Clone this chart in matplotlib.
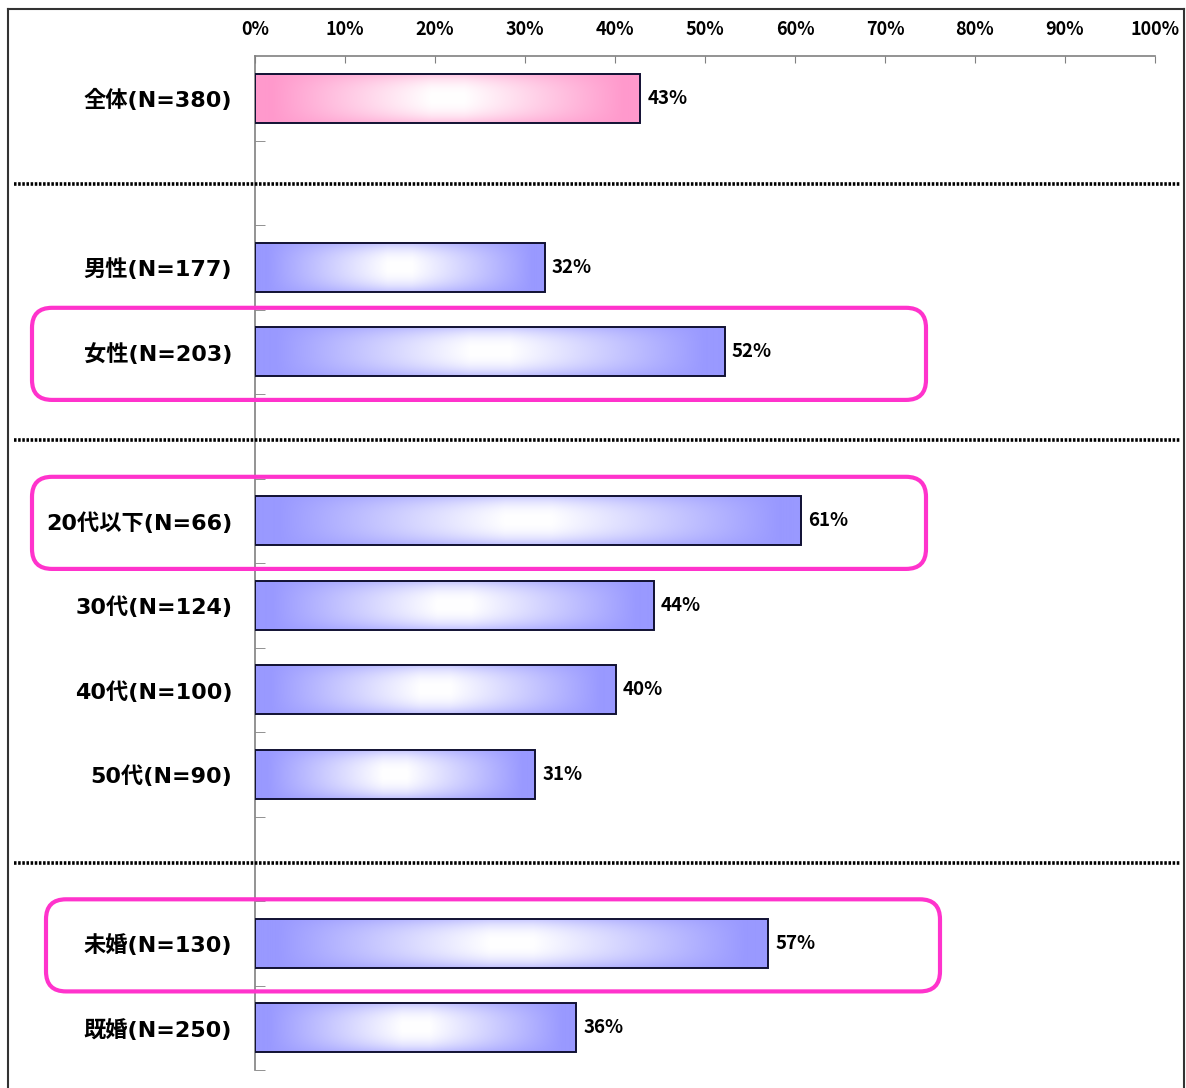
import numpy as np
import matplotlib
matplotlib.use("Agg")
import matplotlib.pyplot as plt
from matplotlib.patches import FancyBboxPatch
from matplotlib.lines import Line2D
from matplotlib.transforms import IdentityTransform, blended_transform_factory
from matplotlib.ticker import FixedLocator

plt.rcParams['font.family'] = ['Noto Sans CJK JP', 'DejaVu Sans']

# ---- data ----
categories = ["全体(N=380)", "男性(N=177)", "女性(N=203)",
              "20代以下(N=66)", "30代(N=124)", "40代(N=100)", "50代(N=90)",
              "未婚(N=130)", "既婚(N=250)"]
values = [42.8, 32.2, 52.2, 60.7, 44.3, 40.1, 31.1, 57.0, 35.7]
group_sizes = [1, 2, 4, 2]
highlighted = ["女性(N=203)", "20代以下(N=66)", "未婚(N=130)"]
x_ticks = [0, 10, 20, 30, 40, 50, 60, 70, 80, 90, 100]
x_tick_labels = [f"{t}%" for t in x_ticks]

# slot positions: groups separated by an empty slot
positions = []
sep_slots = []
slot = 0
for gi, n in enumerate(group_sizes):
    for _ in range(n):
        positions.append(slot)
        slot += 1
    if gi < len(group_sizes) - 1:
        sep_slots.append(slot)
        slot += 1
n_slots = slot

W, H = 1186, 1088
fig = plt.figure(figsize=(W / 100, H / 100), dpi=100)
ax = fig.add_axes([255 / W, 18 / H, 900 / W, 1014 / H])
ax.set_xlim(0, 100)
ax.set_ylim(n_slots - 0.5, -0.5)

blue = np.array([153, 153, 255]) / 255
pink = np.array([255, 153, 204]) / 255

def grad_img(base, nx=300, ny=100):
    u = np.linspace(0, 1, nx)
    v = np.linspace(0, 1, ny)
    fx = np.clip((1 - np.abs(2 * u - 1)) * 1.2 - 0.1, 0, 1)
    fy = 1 - 0.6 * np.abs(2 * v - 1) ** 2.5
    w = fy[:, None] * fx[None, :]
    img = base[None, None, :] * (1 - w[..., None]) + w[..., None]
    return np.clip(img, 0, 1)

bar_h = 0.58
bars = ax.barh(positions, values, height=bar_h, facecolor='none',
               edgecolor='#111133', linewidth=1.4, zorder=3)
for i, (b, v, p) in enumerate(zip(bars, values, positions)):
    base = pink if i == 0 else blue
    im = ax.imshow(grad_img(base), extent=(0, v, p + bar_h / 2, p - bar_h / 2),
                   aspect='auto', interpolation='bilinear', zorder=2)
    im.set_clip_path(b)
    ax.text(v + 0.8, p, f"{round(v)}%", va='center', ha='left',
            fontsize=13.5, fontweight='bold', zorder=4)

ax.set_xlim(0, 100)
ax.set_ylim(n_slots - 0.5, -0.5)
ax.set_aspect('auto')

# axes styling
ax.xaxis.tick_top()
ax.set_xticks(x_ticks)
ax.set_xticklabels(x_tick_labels, fontsize=13, fontweight='bold')
ax.tick_params(axis='x', direction='in', length=5, color='#808080', pad=12)
ax.set_yticks(positions)
ax.set_yticklabels(categories, fontsize=16, fontweight='bold',
                   family=['DejaVu Sans', 'Noto Sans CJK JP'])
ax.tick_params(axis='y', which='major', length=0, pad=16.5)
ax.yaxis.set_minor_locator(FixedLocator(np.arange(0.5, n_slots, 1.0)))
ax.tick_params(axis='y', which='minor', direction='in', length=7, color='#808080')
for s in ['right', 'bottom']:
    ax.spines[s].set_visible(False)
for s in ['top', 'left']:
    ax.spines[s].set_color('#808080')
    ax.spines[s].set_linewidth(1.2)

# dotted separators
sep_offsets = [0.01, 0.05, 0.05]
tr = blended_transform_factory(fig.transFigure, ax.transData)
for s, off in zip(sep_slots, sep_offsets):
    ax.add_line(Line2D([14 / W, 1180 / W], [s + off, s + off], transform=tr,
                       color='black', lw=2.6, linestyle=(0, (0.7, 0.45)),
                       clip_on=False, zorder=5))

# highlight rounded boxes
fig.canvas.draw()
box_x = {"女性(N=203)": (32, 926), "20代以下(N=66)": (32, 926), "未婚(N=130)": (46, 940)}
for name in highlighted:
    p = positions[categories.index(name)]
    y_top = ax.transData.transform((0, p - 0.52))[1]
    y_bot = ax.transData.transform((0, p + 0.57))[1]
    x0, x1 = box_x[name]
    patch = FancyBboxPatch((x0, y_bot), x1 - x0, y_top - y_bot,
                           boxstyle="round,pad=0,rounding_size=20",
                           transform=IdentityTransform(), fill=False,
                           edgecolor='#FF33CC', linewidth=3.0, zorder=6)
    fig.add_artist(patch)

# outer frame
for xs, ys in [([8 / W, 8 / W], [0, (H - 9) / H]),
               ([8 / W, 1184 / W], [(H - 9) / H, (H - 9) / H]),
               ([1184 / W, 1184 / W], [0, (H - 9) / H])]:
    fig.add_artist(Line2D(xs, ys, transform=fig.transFigure, color='#333333', lw=1.5))

fig.savefig("out.png", dpi=100)
